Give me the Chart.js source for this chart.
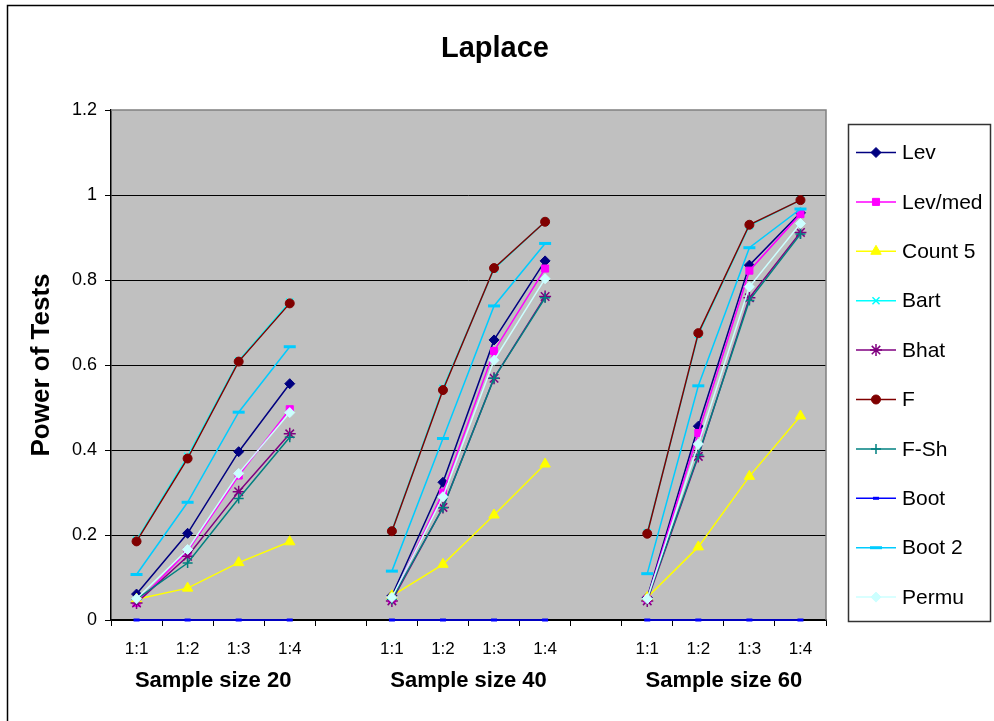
<!DOCTYPE html>
<html>
<head>
<meta charset="utf-8">
<title>Laplace</title>
<script src="https://cdn.jsdelivr.net/npm/chart.js@4.4.1/dist/chart.umd.min.js"></script>
<style>
  html, body { margin: 0; padding: 0; background: #fff; }
  #wrap { width: 994px; height: 721px; }
</style>
</head>
<body>
<div id="wrap"><canvas id="powerChart" width="994" height="721"></canvas></div>
<script>
// ratio categories, repeated for each sample size
var ratios = ['1:1', '1:2', '1:3', '1:4'];
var groups = ['Sample size 20', 'Sample size 40', 'Sample size 60'];
var chartTitle = 'Laplace';

// power of each test, 4 ratios x 3 sample sizes
var lev    = [0.061, 0.204, 0.396, 0.556, 0.057, 0.324, 0.659, 0.845, 0.053, 0.456, 0.835, 0.958];
var levMed = [0.040, 0.162, 0.340, 0.496, 0.049, 0.300, 0.633, 0.827, 0.049, 0.440, 0.822, 0.955];
var count5 = [0.049, 0.075, 0.135, 0.184, 0.057, 0.131, 0.247, 0.367, 0.053, 0.172, 0.338, 0.480];
var bart   = [0.188, 0.385, 0.610, 0.748, 0.210, 0.545, 0.826, 0.937, 0.205, 0.672, 0.928, 0.988];
var bhat   = [0.040, 0.150, 0.302, 0.438, 0.045, 0.265, 0.569, 0.761, 0.045, 0.385, 0.758, 0.912];
var fTest  = [0.185, 0.380, 0.608, 0.745, 0.209, 0.541, 0.828, 0.937, 0.203, 0.675, 0.930, 0.988];
var fSh    = [0.049, 0.134, 0.286, 0.430, 0.049, 0.264, 0.569, 0.758, 0.049, 0.388, 0.752, 0.908];
var boot   = [0, 0, 0, 0, 0, 0, 0, 0, 0, 0, 0, 0];
var boot2  = [0.107, 0.277, 0.489, 0.643, 0.115, 0.427, 0.739, 0.886, 0.109, 0.551, 0.876, 0.967];
var permu  = [0.050, 0.166, 0.345, 0.488, 0.053, 0.290, 0.611, 0.803, 0.050, 0.414, 0.784, 0.933];

var seriesNames = ['Lev', 'Lev/med', 'Count 5', 'Bart', 'Bhat', 'F', 'F-Sh', 'Boot', 'Boot 2', 'Permu'];
var seriesData = [lev, levMed, count5, bart, bhat, fTest, fSh, boot, boot2, permu];

// look of each series
var styles = [
  { color: '#000080', marker: 'rectRot',  r: 5,   bw: 1 },
  { color: '#ff00ff', marker: 'rect',     r: 5,   bw: 1 },
  { color: '#ffff00', marker: 'triangle', r: 6,   bw: 1 },
  { color: '#00ffff', marker: 'crossRot', r: 5,   bw: 1.5 },
  { color: '#800080', marker: 'star',     r: 6,   bw: 1.5 },
  { color: '#800000', marker: 'circle',   r: 4.5, bw: 1 },
  { color: '#008080', marker: 'cross',    r: 5,   bw: 1.5 },
  { color: '#0000ff', marker: 'line',     r: 3,   bw: 3 },
  { color: '#00ccff', marker: 'line',     r: 6,   bw: 3 },
  { color: '#ccffff', marker: 'rectRot',  r: 5,   bw: 1 }
];

var FONT = 'Arial, "Liberation Sans", sans-serif';
Chart.defaults.font.family = FONT;
Chart.defaults.color = '#000';

// x labels: one empty slot between sample sizes
var xLabels = [];
groups.forEach(function(g, gi) {
  ratios.forEach(function(r) { xLabels.push(r); });
  if (gi < groups.length - 1) xLabels.push('');
});

function spread(vals) {
  var out = [];
  groups.forEach(function(g, gi) {
    for (var k = 0; k < ratios.length; k++) out.push(vals[gi * ratios.length + k]);
    if (gi < groups.length - 1) out.push(null);
  });
  return out;
}

var datasets = seriesNames.map(function(name, i) {
  var s = styles[i];
  return {
    label: name,
    data: spread(seriesData[i]),
    borderColor: s.color,
    backgroundColor: s.color,
    borderWidth: 1.5,
    pointStyle: s.marker,
    pointRadius: s.r,
    pointBorderWidth: s.bw,
    pointBorderColor: s.color,
    pointBackgroundColor: s.color,
    spanGaps: false,
    tension: 0,
    clip: 8,
    order: seriesNames.length - i   // later series on top
  };
});

var plotDecor = {
  id: 'plotDecor',
  beforeDraw: function(chart) {
    var ctx = chart.ctx, a = chart.chartArea;
    ctx.save();
    ctx.fillStyle = '#fff';
    ctx.fillRect(0, 0, chart.width, chart.height);
    ctx.strokeStyle = '#000';
    ctx.lineWidth = 1.5;
    ctx.strokeRect(7.5, 5.5, chart.width + 20, chart.height + 20);
    ctx.fillStyle = '#c0c0c0';
    ctx.fillRect(a.left, a.top, a.right - a.left, a.bottom - a.top);
    ctx.fillStyle = '#000';
    ctx.font = 'bold 29px ' + FONT;
    ctx.textAlign = 'center';
    ctx.textBaseline = 'middle';
    ctx.fillText(chartTitle, 495, 49);
    ctx.restore();
  },
  beforeDatasetsDraw: function(chart) {
    var ctx = chart.ctx, a = chart.chartArea;
    ctx.save();
    ctx.strokeStyle = '#808080';
    ctx.lineWidth = 1.5;
    ctx.beginPath();
    ctx.moveTo(a.left, a.top);
    ctx.lineTo(a.right, a.top);
    ctx.lineTo(a.right, a.bottom);
    ctx.stroke();
    ctx.restore();
  },
  afterDraw: function(chart) {
    var ctx = chart.ctx, xs = chart.scales.x;
    ctx.save();
    // sample size captions under each block of ratios
    ctx.fillStyle = '#000';
    ctx.font = 'bold 22px ' + FONT;
    ctx.textAlign = 'center';
    ctx.textBaseline = 'middle';
    groups.forEach(function(g, gi) {
      var first = gi * (ratios.length + 1);
      var cx = (xs.getPixelForValue(first) + xs.getPixelForValue(first + ratios.length - 1)) / 2;
      ctx.fillText(g, cx, 681);
    });

    // legend box
    ctx.strokeStyle = '#333';
    ctx.lineWidth = 1.5;
    ctx.strokeRect(848.5, 124.5, 142, 497);
    ctx.font = '21px ' + FONT;
    ctx.textAlign = 'left';
    chart.data.datasets.forEach(function(ds, i) {
      var y = 152.5 + i * 49.4;
      var s = styles[i];
      ctx.strokeStyle = s.color;
      ctx.lineWidth = 1.5;
      ctx.beginPath();
      ctx.moveTo(856, y);
      ctx.lineTo(896, y);
      ctx.stroke();
      ctx.fillStyle = s.color;
      ctx.lineWidth = s.bw;
      Chart.helpers.drawPoint(ctx, { pointStyle: s.marker, radius: s.r, borderWidth: s.bw, rotation: 0 }, 876, y);
      ctx.fillStyle = '#000';
      ctx.fillText(ds.label, 902, y + 1);
    });
    ctx.restore();
  }
};

new Chart(document.getElementById('powerChart'), {
  type: 'line',
  data: { labels: xLabels, datasets: datasets },
  plugins: [plotDecor],
  options: {
    responsive: false,
    animation: false,
    layout: { padding: { left: 0, right: 168, top: 110, bottom: 0 } },
    plugins: {
      legend: { display: false },
      tooltip: { enabled: false },
      title: { display: false }
    },
    scales: {
      x: {
        type: 'category',
        offset: true,
        grid: { offset: true, drawOnChartArea: false, drawTicks: true, tickLength: 6, color: '#000' },
        border: { display: true, color: '#000', width: 1.5 },
        ticks: { autoSkip: false, maxRotation: 0, color: '#000', font: { size: 17 }, padding: 13 },
        afterFit: function(s) { s.height = 101; }
      },
      y: {
        min: 0,
        max: 1.2,
        ticks: {
          stepSize: 0.2,
          color: '#000',
          font: { size: 18 },
          padding: 8,
          callback: function(v) { return String(Number(v.toFixed(1))); }
        },
        grid: {
          color: function(c) { return c.tick && c.tick.value >= 1.2 ? 'rgba(0,0,0,0)' : '#000'; },
          tickColor: '#000',
          tickLength: 6,
          lineWidth: 1
        },
        border: { color: '#000', width: 1.5 },
        title: {
          display: true,
          text: 'Power of Tests',
          color: '#000',
          font: { size: 26, weight: 'bold' },
          padding: { top: 26, bottom: 0 }
        },
        afterFit: function(s) { s.width = 111; }
      }
    }
  }
});
</script>
</body>
</html>
